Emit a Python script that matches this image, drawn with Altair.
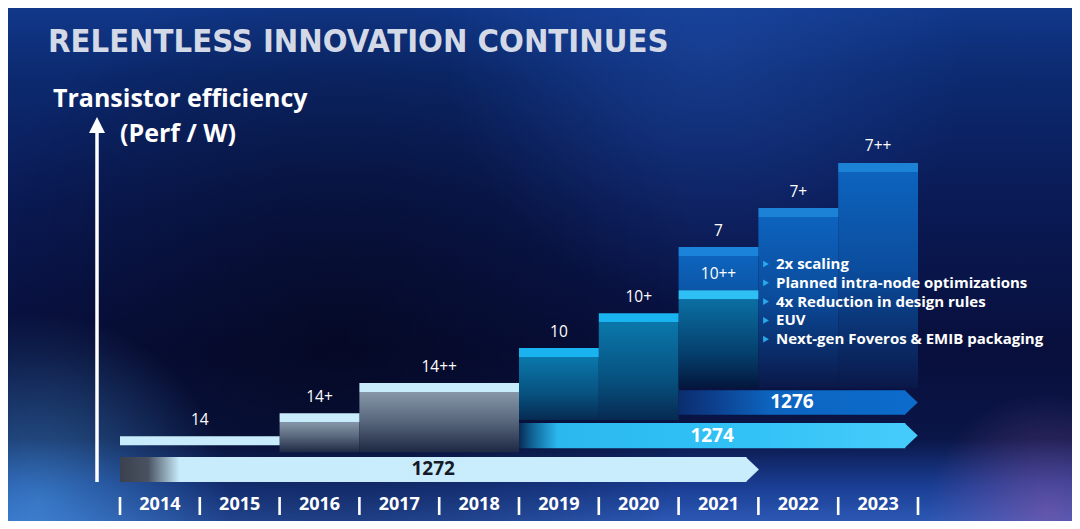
import altair as alt
import pandas as pd

# ---------------- data ----------------
node_labels = ["14", "14+", "14++", "10", "10+", "10++", "7", "7+", "7++"]
node_start = [2014, 2016, 2017, 2019, 2020, 2021, 2021, 2022, 2023]
node_end = [2016, 2017, 2019, 2020, 2021, 2022, 2022, 2023, 2024]
node_perf = [16.5, 21.0, 26.9, 33.7, 40.5, 45.0, 53.4, 61.0, 69.8]      # bar top (Perf / W index)
node_floor = [14.75, 13.4, 13.4, 19.7, 19.7, 25.9, 45.0, 25.9, 25.9]    # where each bar fades out
node_family = ["14", "14", "14", "10", "10", "10pp", "7", "7p", "7p"]

process_names = ["1272", "1274", "1276"]
process_start = [2014, 2019, 2021]
process_end = [2021.85, 2023.84, 2023.84]
process_low = [7.6, 14.2, 20.7]
process_high = [12.5, 19.1, 25.5]

years = list(range(2014, 2024))
year_bounds = list(range(2014, 2025))

bullets = [
    "2x scaling",
    "Planned intra-node optimizations",
    "4x Reduction in design rules",
    "EUV",
    "Next-gen Foveros & EMIB packaging",
]

# ---------------- layout / style ----------------
W, H = 1064, 513
STRIPE = 1.75
FONT = "Open Sans"
XS = alt.Scale(domain=[2012.5965, 2025.9298], nice=False, zero=False)
YS = alt.Scale(domain=[0, 100], nice=False, zero=False)


def X(f):
    return alt.X(f, type="quantitative", scale=XS, axis=None)


def Y(f):
    return alt.Y(f, type="quantitative", scale=YS, axis=None)


def vgrad(stops):
    return alt.Gradient(gradient="linear", x1=0, x2=0, y1=0, y2=1,
                        stops=[alt.GradientStop(offset=o, color=c) for o, c in stops])


def hgrad(stops):
    return alt.Gradient(gradient="linear", x1=0, x2=1, y1=0, y2=0,
                        stops=[alt.GradientStop(offset=o, color=c) for o, c in stops])


def rgrad(c0, c1):
    return alt.Gradient(gradient="radial", x1=0.5, y1=0.5, r1=0, x2=0.5, y2=0.5, r2=0.5,
                        stops=[alt.GradientStop(offset=0, color=c0),
                               alt.GradientStop(offset=1, color=c1)])


def glow(cx, cy, r, c0, c1):
    return alt.Chart(one).mark_rect(color=rgrad(c0, c1)).encode(
        x=alt.value(cx - r), x2=alt.value(cx + r), y=alt.value(cy - r), y2=alt.value(cy + r))


nodes = pd.DataFrame({
    "label": node_labels, "start": node_start, "end": node_end,
    "perf": node_perf, "floor": node_floor, "family": node_family,
})
procs = pd.DataFrame({
    "name": process_names, "start": process_start, "end": process_end,
    "low": process_low, "high": process_high,
})
yr = pd.DataFrame({"year": [str(y) for y in years], "y0": years})
bounds = pd.DataFrame({"b": year_bounds})
bl = pd.DataFrame({"text": bullets, "i": list(range(len(bullets)))})
one = pd.DataFrame({"k": [0]})

# ---------------- background ----------------
bg = alt.Chart(one).mark_rect(color=vgrad([
    (0.0, "#11388a"), (0.13, "#0c2a70"), (0.38, "#0a1a55"), (0.67, "#080f3c"),
    (0.84, "#0a1647"), (0.93, "#1a3d92"), (1.0, "#2c58b4")])).encode(
    x=alt.value(0), x2=alt.value(W), y=alt.value(0), y2=alt.value(H))

shade = glow(330, 330, 380, "rgba(2,4,20,0.55)", "rgba(2,4,20,0)")
glow_left = glow(30, 495, 190, "rgba(80,170,240,0.5)", "rgba(80,170,240,0)")
glow_right = glow(1040, 505, 120, "rgba(170,90,170,0.45)", "rgba(170,90,170,0)")
glow_top = glow(700, 40, 260, "rgba(40,90,190,0.35)", "rgba(40,90,190,0)")

# ---------------- node bars ----------------
nb = alt.Chart(nodes).transform_calculate(
    stripe_low=f"datum.perf - {STRIPE}", mid="(datum.start + datum.end) / 2")

body_grads = {
    "14": [(0, "#8797a9"), (0.5, "#56657a"), (1, "#1e2843")],
    "10": [(0, "#0a78ab"), (0.6, "#07507e"), (1, "#062a52")],
    "10pp": [(0, "#0b6fa3"), (0.6, "#05406e"), (1, "#04163c")],
    "7": [(0, "#0d64bc"), (1, "#0b56a8")],
    "7p": [(0, "#0d63bd"), (0.45, "#0b4d9e"), (1, "#0a1848")],
}
bodies = [
    nb.transform_filter(f"datum.family == '{fam}'").mark_rect(color=vgrad(st)).encode(
        x=X("start"), x2="end", y=Y("stripe_low"), y2="floor")
    for fam, st in body_grads.items()
]

stripes = nb.mark_rect().encode(
    x=X("start"), x2="end", y=Y("perf"), y2="stripe_low",
    color=alt.Color("family:N", legend=None, scale=alt.Scale(
        domain=["14", "10", "10pp", "7", "7p"],
        range=["#c8ecfb", "#19b4ef", "#2ec0f4", "#1b84da", "#1c82d6"])))

node_text = nb.mark_text(font=FONT, fontSize=15.5, color="white", dy=-16.5, baseline="middle").encode(
    x=X("mid"), y=Y("perf"), text="label:N")

# ---------------- process arrows ----------------
pb = alt.Chart(procs).transform_calculate(
    mx="(datum.start + datum.end) / 2", my="(datum.low + datum.high) / 2")

arrow_grads = {
    "1272": [(0, "#3a404c"), (0.045, "#4a5262"), (0.095, "#c8ecfb"), (1, "#c9edfc")],
    "1274": [(0, "#0a2a55"), (0.03, "#0f5d8e"), (0.1, "#2ab8ef"), (0.6, "#33c2f6"), (1, "#45cbfb")],
    "1276": [(0, "#0b2d6e"), (0.15, "#0c3f8c"), (0.4, "#0d64bf"), (1, "#0c6bcb")],
}
arrow_bodies = [
    pb.transform_filter(f"datum.name == '{n}'").mark_rect(color=hgrad(st)).encode(
        x=X("start"), x2="end", y=Y("low"), y2="high")
    for n, st in arrow_grads.items()
]
arrow_tips = pb.mark_point(shape="M-0.06,-1 L1,0 L-0.06,1 Z", filled=True, size=625,
                           opacity=1, strokeWidth=0).encode(
    x=X("end"), y=Y("my"),
    color=alt.Color("name:N", legend=None, scale=alt.Scale(
        domain=process_names, range=["#c9edfc", "#45cbfb", "#0c6bcb"])))
arrow_text = pb.mark_text(font=FONT, fontSize=19, fontWeight="bold", baseline="middle").encode(
    x=X("mx"), y=Y("my"), text="name:N",
    color=alt.Color("name:N", legend=None, scale=alt.Scale(
        domain=process_names, range=["#141a28", "#ffffff", "#ffffff"])))

# ---------------- year axis ----------------
year_text = alt.Chart(yr).transform_calculate(mid="datum.y0 + 0.5").mark_text(
    font=FONT, fontSize=18, fontWeight="bold", color="white", baseline="middle").encode(
    x=X("mid"), y=alt.value(497), text="year:N")
year_sep = alt.Chart(bounds).mark_rule(color="white", strokeWidth=2.6).encode(
    x=X("b"), y=alt.value(489), y2=alt.value(507))

# ---------------- y-axis arrow & titles ----------------
yline = alt.Chart(one).mark_rule(color="white", strokeWidth=3.5).encode(
    x=alt.value(89), y=alt.value(474), y2=alt.value(122))
yhead = alt.Chart(one).mark_point(shape="M0,-1 L1,1 L-1,1 Z", filled=True, size=256,
                                  opacity=1, strokeWidth=0, color="white").encode(
    x=alt.value(89), y=alt.value(117))

title = alt.Chart(one).mark_text(
    text="RELENTLESS INNOVATION CONTINUES", font="DejaVu Sans Condensed, Roboto, sans-serif",
    fontSize=32.5, fontWeight="bold", color="#d3d9e6", align="left", baseline="middle").encode(
    x=alt.value(40), y=alt.value(34))
ytitle1 = alt.Chart(one).mark_text(
    text="Transistor efficiency", font=FONT, fontSize=25, fontWeight="bold",
    color="white", align="left", baseline="middle").encode(x=alt.value(45), y=alt.value(91))
ytitle2 = alt.Chart(one).mark_text(
    text="(Perf / W)", font=FONT, fontSize=25, fontWeight="bold",
    color="white", align="left", baseline="middle").encode(x=alt.value(112), y=alt.value(126))

# ---------------- bullet list ----------------
blb = alt.Chart(bl).transform_calculate(py="256 + 18.8 * datum.i")
bullet_marks = blb.mark_point(shape="triangle-right", filled=True, size=45, opacity=1,
                              strokeWidth=0, color="#2aa9ea").encode(
    x=alt.value(758), y=alt.Y("py:Q", scale=None))
bullet_text = blb.mark_text(font=FONT, fontSize=15, fontWeight="bold", color="white",
                            align="left", baseline="middle").encode(
    x=alt.value(768), y=alt.Y("py:Q", scale=None), text="text:N")

layers = [bg, shade, glow_top, glow_left, glow_right] + bodies + [stripes, node_text] + arrow_bodies + [
    arrow_tips, arrow_text, year_text, year_sep, yline, yhead, title, ytitle1, ytitle2,
    bullet_marks, bullet_text]

chart = alt.layer(*layers).properties(
    width=W, height=H, padding=0, background="#0a1446",
    autosize=alt.AutoSizeParams(type="none"),
).resolve_scale(color="independent").configure_view(strokeWidth=0)

chart.save("out.html", embed_options={"renderer": "svg", "actions": False})
